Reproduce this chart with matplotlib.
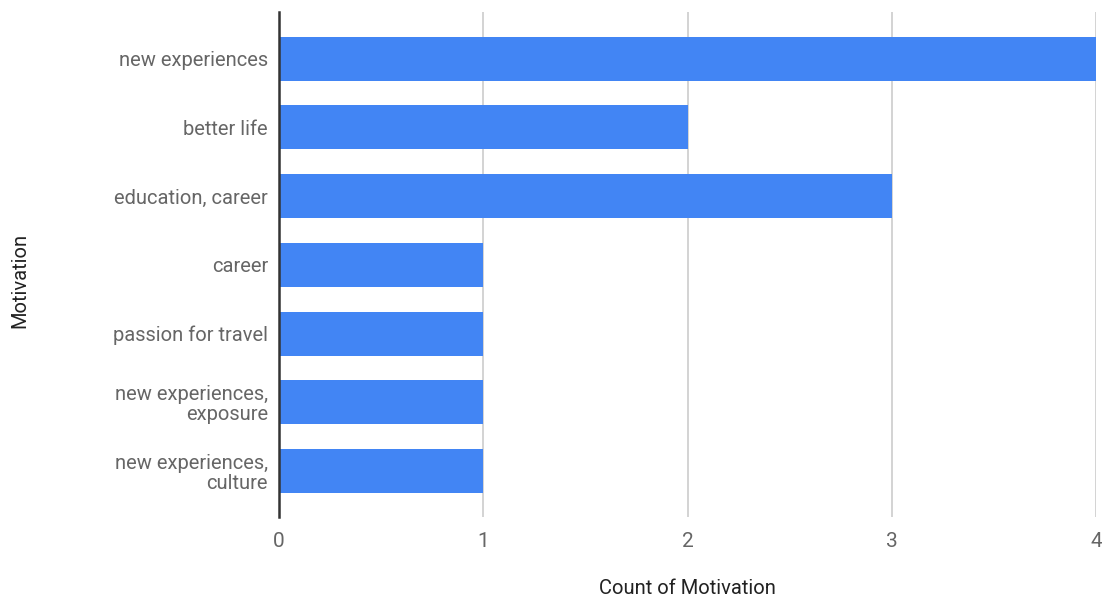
import matplotlib
matplotlib.use("Agg")
import matplotlib.pyplot as plt

categories = ["new experiences", "better life", "education, career", "career",
              "passion for travel", "new experiences,\nexposure", "new experiences,\nculture"]
counts = [4, 2, 3, 1, 1, 1, 1]
x_ticks = [0, 1, 2, 3, 4]

plt.rcParams['font.family'] = ['Roboto', 'DejaVu Sans']
text_color = "#666666"

fig = plt.figure(figsize=(11.02, 5.99), dpi=100)
ax = fig.add_axes([279/1102, 1-517/599, (1096-279)/1102, (517-12)/599])

ypos = list(range(len(categories)))
ax.barh(ypos, counts, height=0.64, color="#4285F4", zorder=3)
ax.set_ylim(6.67, -0.68)
ax.set_xlim(0, 4)
ax.set_yticks(ypos)
ax.set_yticklabels(categories, fontsize=14.5, color=text_color, linespacing=1.05)
ax.set_xticks(x_ticks)
ax.set_xticklabels([str(t) for t in x_ticks], fontsize=15, color=text_color)
ax.tick_params(axis='both', length=0)
ax.tick_params(axis='y', pad=8)
ax.tick_params(axis='x', pad=11)
ax.grid(axis='x', color="#cccccc", linewidth=1.2, zorder=0)
for s in ['top', 'right', 'bottom']:
    ax.spines[s].set_visible(False)
ax.spines['left'].set_color("#333333")
ax.spines['left'].set_linewidth(1.8)
ax.spines['left'].set_zorder(4)

fig.text(687/1102, 1-589/599, "Count of Motivation", ha='center', va='center',
         fontsize=14.5, color="#222222")
fig.text(20/1102, 1-280/599, "Motivation", ha='center', va='center', rotation=90,
         fontsize=14.5, color="#222222")

fig.savefig("out.png", dpi=100)
